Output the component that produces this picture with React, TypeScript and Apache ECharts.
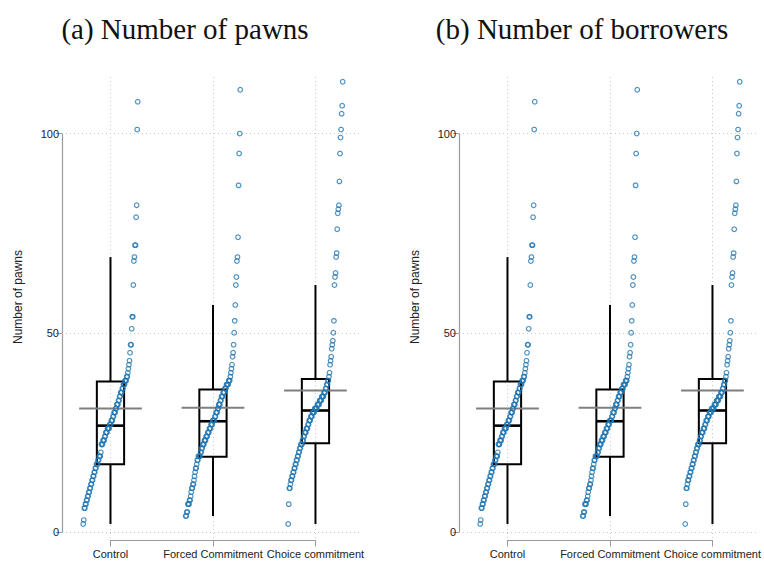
import React, { useEffect, useRef } from "react";
import * as echarts from "echarts";

const categories = ["Control", "Forced Commitment", "Choice commitment"];
const panelTitles = ["(a) Number of pawns", "(b) Number of borrowers"];
const yAxisTitle = "Number of pawns";
const yTicks = [0, 50, 100];

// sorted values per group (read from the quantile strips)
const controlValues = [
  2, 3, 6, 6, 7, 7, 8, 8, 9, 9,
  10, 10, 11, 11, 12, 12, 13, 13, 14, 14,
  15, 15, 16, 16, 17, 17, 17, 18, 18, 19,
  19, 19, 20, 22, 22, 22, 23, 23, 23, 24,
  24, 25, 25, 25, 26, 26, 26, 26, 27, 27,
  27, 28, 28, 28, 29, 29, 30, 30, 30, 31,
  31, 32, 32, 32, 33, 33, 34, 34, 35, 35,
  35, 36, 36, 37, 37, 37, 38, 38, 38, 39,
  39, 40, 41, 42, 43, 45, 47, 47, 51, 54,
  54, 62, 68, 69, 72, 72, 79, 82, 101, 108,
];
const forcedValues = [
  4, 4, 5, 5, 7, 7, 7, 8, 8, 9,
  10, 11, 11, 12, 12, 13, 14, 15, 16, 16,
  17, 18, 18, 19, 19, 19, 19, 20, 20, 21,
  21, 22, 22, 22, 23, 23, 23, 24, 24, 24,
  25, 25, 25, 26, 26, 26, 27, 27, 27, 28,
  28, 28, 28, 29, 29, 30, 30, 30, 31, 31,
  32, 32, 32, 33, 33, 34, 34, 34, 35, 35,
  35, 36, 36, 36, 37, 37, 37, 37, 38, 38,
  38, 39, 40, 41, 42, 44, 45, 47, 50, 53,
  57, 62, 64, 68, 69, 74, 87, 95, 100, 111,
];
const choiceValues = [
  2, 7, 11, 11, 12, 13, 13, 14, 14, 15,
  15, 16, 16, 17, 17, 18, 18, 19, 19, 20,
  20, 21, 21, 22, 22, 22, 23, 23, 24, 24,
  25, 25, 25, 26, 26, 26, 27, 27, 28, 28,
  28, 29, 29, 29, 30, 30, 30, 30, 31, 31,
  31, 31, 31, 32, 32, 32, 32, 33, 33, 33,
  33, 34, 34, 34, 34, 35, 35, 35, 36, 36,
  37, 37, 38, 38, 39, 40, 42, 43, 44, 46,
  47, 48, 50, 53, 62, 64, 65, 69, 70, 76,
  80, 81, 82, 88, 95, 99, 101, 105, 107, 113,
];
const groupValues = [controlValues, forcedValues, choiceValues];

// [lower whisker, Q1, median, Q3, upper whisker, mean]
const controlBox = [2, 17, 26.7, 37.8, 69, 31.0];
const forcedBox = [4, 18.9, 27.8, 35.8, 57, 31.2];
const choiceBox = [2, 22.3, 30.5, 38.4, 62, 35.5];
const groupBoxes = [controlBox, forcedBox, choiceBox];

// layout
const W = 764;
const H = 561;
const PANEL_LEFT = [62, 459];
const PANEL_WIDTH = 300;
const TOP = 77;
const HEIGHT = 461;
const X_MIN = -0.473;
const X_MAX = 2.454;
const Y_MIN = -1.5;
const Y_MAX = 114.2;
const SPREAD = 0.266;
const BOX_HALF = 0.133;
const MEAN_HALF = 0.306;
const FONT = "'Liberation Sans', Arial, sans-serif";
const SERIF = "'Liberation Serif', 'Times New Roman', serif";
const AXIS_COLOR = "#9a9a9a";
const GRID_COLOR = "#c8c8c8";
const DOT_COLOR = "#1f77b4";

function buildOption() {
  const xs = PANEL_WIDTH / (X_MAX - X_MIN);
  const ys = HEIGHT / (Y_MAX - Y_MIN);
  const grid: any[] = [];
  const xAxis: any[] = [];
  const yAxis: any[] = [];
  const series: any[] = [];
  const graphic: any[] = [];

  PANEL_LEFT.forEach((left, p) => {
    const gMain = p * 3;
    const gY = p * 3 + 1;
    const gX = p * 3 + 2;
    // main data grid
    grid.push({ left, top: TOP, width: PANEL_WIDTH, height: HEIGHT });
    xAxis.push({ type: "value", gridIndex: gMain, min: X_MIN, max: X_MAX, show: false });
    yAxis.push({ type: "value", gridIndex: gMain, min: Y_MIN, max: Y_MAX, show: false });
    // y axis display grid (spans 0..100)
    const yTop = TOP + (Y_MAX - yTicks[yTicks.length - 1]) * ys;
    const yHeight = (yTicks[yTicks.length - 1] - yTicks[0]) * ys;
    grid.push({ left, top: yTop, width: 10, height: yHeight });
    xAxis.push({ type: "value", gridIndex: gY, show: false });
    yAxis.push({
      type: "value",
      gridIndex: gY,
      min: yTicks[0],
      max: yTicks[yTicks.length - 1],
      interval: 50,
      axisLine: { show: true, lineStyle: { color: AXIS_COLOR, width: 1.2 } },
      axisTick: { show: true, length: 6, lineStyle: { color: AXIS_COLOR, width: 1 } },
      axisLabel: { fontSize: 11, color: "#222", margin: 3, fontFamily: FONT },
      splitLine: { show: false },
    });
    // x axis display grid (spans first..last category)
    const xLeft = left + (0 - X_MIN) * xs;
    const xWidth = (categories.length - 1) * xs;
    grid.push({ left: xLeft, top: 539.5, width: xWidth, height: 1 });
    xAxis.push({
      type: "category",
      gridIndex: gX,
      data: categories,
      boundaryGap: false,
      axisLine: { show: true, lineStyle: { color: AXIS_COLOR, width: 1.2 } },
      axisTick: { show: true, length: 6, lineStyle: { color: AXIS_COLOR, width: 1 } },
      axisLabel: { interval: 0, fontSize: 11, color: "#222", margin: 8, fontFamily: FONT },
      splitLine: { show: false },
    });
    yAxis.push({ type: "value", gridIndex: gX, show: false });

    // dotted grid lines
    series.push({
      type: "scatter",
      xAxisIndex: gMain,
      yAxisIndex: gMain,
      data: [],
      silent: true,
      z: 1,
      markLine: {
        z: 1,
        silent: true,
        symbol: ["none", "none"],
        label: { show: false },
        lineStyle: { color: GRID_COLOR, type: [1, 3], width: 1 },
        data: [
          ...yTicks.map((v) => ({ yAxis: v })),
          ...categories.map((_, i) => ({ xAxis: i })),
        ],
      },
    });

    // boxes, whiskers, mean lines
    series.push({
      type: "custom",
      xAxisIndex: gMain,
      yAxisIndex: gMain,
      z: 3,
      silent: true,
      data: groupBoxes.map((b, i) => [i, ...b]),
      renderItem: (params: any, api: any) => {
        const x = api.value(0);
        const lo = api.value(1);
        const q1 = api.value(2);
        const med = api.value(3);
        const q3 = api.value(4);
        const hi = api.value(5);
        const mean = api.value(6);
        const c = (dx: number, v: number) => api.coord([x + dx, v]);
        const cx = c(0, hi)[0];
        const yHi = c(0, hi)[1];
        const yLo = c(0, lo)[1];
        const yQ1 = c(0, q1)[1];
        const yQ3 = c(0, q3)[1];
        const yMed = c(0, med)[1];
        const yMean = c(0, mean)[1];
        const xl = c(-BOX_HALF, 0)[0];
        const xr = c(BOX_HALF, 0)[0];
        const ml = c(-MEAN_HALF, 0)[0];
        const mr = c(MEAN_HALF, 0)[0];
        return {
          type: "group",
          children: [
            { type: "line", shape: { x1: cx, y1: yQ3, x2: cx, y2: yHi }, style: { stroke: "#000", lineWidth: 2 } },
            { type: "line", shape: { x1: cx, y1: yQ1, x2: cx, y2: yLo }, style: { stroke: "#000", lineWidth: 2 } },
            {
              type: "rect",
              shape: { x: xl, y: yQ3, width: xr - xl, height: yQ1 - yQ3 },
              style: { fill: "none", stroke: "#000", lineWidth: 2 },
            },
            { type: "line", shape: { x1: xl, y1: yMed, x2: xr, y2: yMed }, style: { stroke: "#000", lineWidth: 2.6 } },
            { type: "line", shape: { x1: ml, y1: yMean, x2: mr, y2: yMean }, style: { stroke: "#7f7f7f", lineWidth: 2 } },
          ],
        };
      },
    });

    // quantile strips
    groupValues.forEach((vals, g) => {
      const n = vals.length;
      series.push({
        type: "scatter",
        xAxisIndex: gMain,
        yAxisIndex: gMain,
        z: 4,
        silent: true,
        symbol: "circle",
        symbolSize: 4.6,
        itemStyle: { color: "rgba(255,255,255,0)", borderColor: DOT_COLOR, borderWidth: 1.2 },
        data: vals.map((v, i) => [g - SPREAD + (2 * SPREAD * i) / (n - 1), v]),
      });
    });

    // titles
    const center = left + PANEL_WIDTH / 2 - 27;
    graphic.push({
      type: "text",
      x: center,
      y: 29,
      style: {
        text: panelTitles[p],
        font: `29px ${SERIF}`,
        fill: "#111",
        textAlign: "center",
        textVerticalAlign: "middle",
      },
    });
    graphic.push({
      type: "text",
      x: left - 44,
      y: 297,
      rotation: Math.PI / 2,
      style: {
        text: yAxisTitle,
        font: `12px ${FONT}`,
        fill: "#222",
        textAlign: "center",
        textVerticalAlign: "middle",
      },
    });
  });

  return {
    animation: false,
    backgroundColor: "#fff",
    grid,
    xAxis,
    yAxis,
    series,
    graphic,
  };
}

export default function App() {
  const ref = useRef<HTMLDivElement>(null);
  useEffect(() => {
    if (!ref.current) return;
    const chart = echarts.init(ref.current, undefined, { renderer: "svg", width: W, height: H });
    chart.setOption(buildOption() as any);
    return () => chart.dispose();
  }, []);
  return (
    <div
      ref={ref}
      style={{ position: "fixed", left: 0, top: 0, width: W, height: H }}
    />
  );
}
